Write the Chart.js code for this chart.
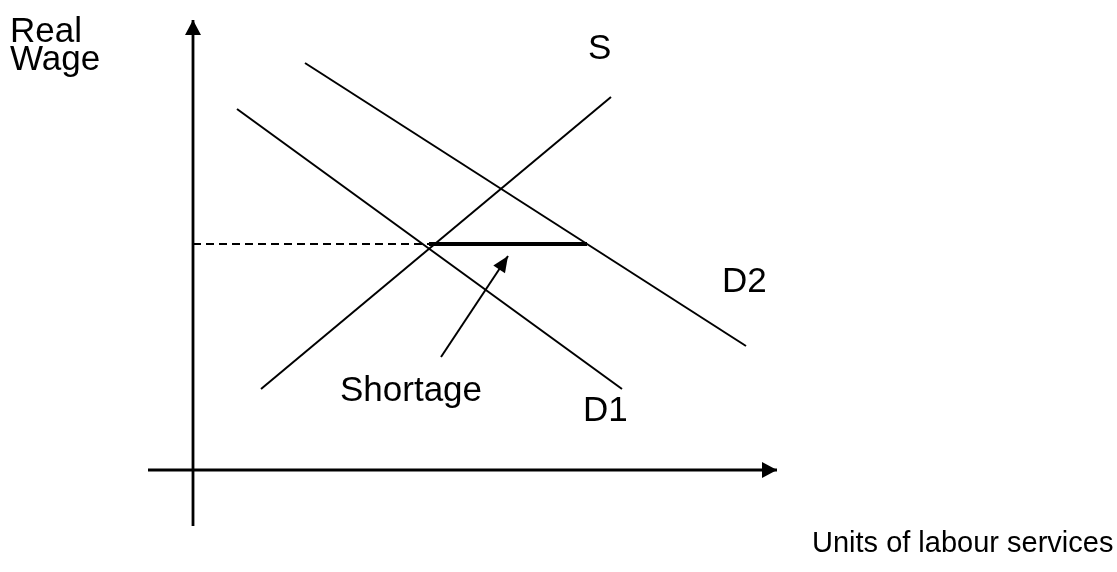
<!DOCTYPE html>
<html>
<head>
<meta charset="utf-8">
<script src="https://cdn.jsdelivr.net/npm/chart.js@4"></script>
<style>
html,body{margin:0;padding:0;background:#fff;}
#wrap{width:1117px;height:572px;position:relative;}
</style>
</head>
<body>
<div id="wrap"><canvas id="c" width="1117" height="572"></canvas></div>
<script>
// Data (units measured from the origin of the diagram)
const supplyS = [{x:68,y:81},{x:418,y:373}];
const demandD1 = [{x:44,y:361},{x:429,y:81}];
const demandD2 = [{x:112,y:407},{x:553,y:124}];
const wageLevel = 226;
const shortageFrom = 236;
const shortageTo = 394;
const wageDashed = [{x:0,y:wageLevel},{x:shortageFrom,y:wageLevel}];
const shortageSeg = [{x:shortageFrom,y:wageLevel},{x:shortageTo,y:wageLevel}];
const shortagePointer = [{x:248,y:113},{x:315,y:214}];
const yAxisLine = [{x:0,y:-56},{x:0,y:450}];
const xAxisLine = [{x:-45,y:0},{x:584,y:0}];
const labels = [
  {text:'S', x:395, y:411},
  {text:'D2', x:529, y:178},
  {text:'D1', x:390, y:49},
  {text:'Shortage', x:147, y:69}
];

function ds(data, width, dash){
  return {data:data, borderColor:'#000', borderWidth:width, borderDash:dash||[], pointRadius:0, showLine:true, fill:false, clip:false, tension:0};
}

const arrowPlugin = {
  id:'arrows',
  afterDatasetsDraw(chart){
    const ctx = chart.ctx, xs = chart.scales.x, ys = chart.scales.y;
    function head(from, to, len, half){
      const x1=xs.getPixelForValue(from.x), y1=ys.getPixelForValue(from.y);
      const x2=xs.getPixelForValue(to.x), y2=ys.getPixelForValue(to.y);
      const a=Math.atan2(y2-y1,x2-x1);
      ctx.save();
      ctx.fillStyle='#000';
      ctx.beginPath();
      ctx.moveTo(x2,y2);
      ctx.lineTo(x2-len*Math.cos(a)+half*Math.sin(a), y2-len*Math.sin(a)-half*Math.cos(a));
      ctx.lineTo(x2-len*Math.cos(a)-half*Math.sin(a), y2-len*Math.sin(a)+half*Math.cos(a));
      ctx.closePath();
      ctx.fill();
      ctx.restore();
    }
    head(yAxisLine[0], yAxisLine[1], 15, 8);
    head(xAxisLine[0], xAxisLine[1], 15, 8);
    head(shortagePointer[0], shortagePointer[1], 16, 7);
    function txt(t, px, py, size){
      ctx.save();
      ctx.fillStyle='#000';
      ctx.font=size+'px "Liberation Sans", Arial, sans-serif';
      ctx.textBaseline='alphabetic';
      ctx.fillText(t, px, py);
      ctx.restore();
    }
    labels.forEach(l=>txt(l.text, xs.getPixelForValue(l.x), ys.getPixelForValue(l.y), 35));
    txt('Real', 10, 42, 35);
    txt('Wage', 10, 70, 35);
    txt('Units of labour services', 812, 552, 29);
  }
};

new Chart(document.getElementById('c'), {
  type:'scatter',
  data:{datasets:[
    ds(yAxisLine, 2.8),
    ds(xAxisLine, 2.8),
    ds(supplyS, 2),
    ds(demandD1, 2),
    ds(demandD2, 2),
    ds(wageDashed, 2, [8,5]),
    ds(shortageSeg, 4),
    ds(shortagePointer, 2)
  ]},
  options:{
    responsive:false,
    animation:false,
    layout:{padding:{left:148,right:340,top:20,bottom:46}},
    plugins:{legend:{display:false},tooltip:{enabled:false}},
    scales:{
      x:{type:'linear',min:-45,max:584,display:false},
      y:{type:'linear',min:-56,max:450,display:false}
    }
  },
  plugins:[arrowPlugin]
});
</script>
</body>
</html>
